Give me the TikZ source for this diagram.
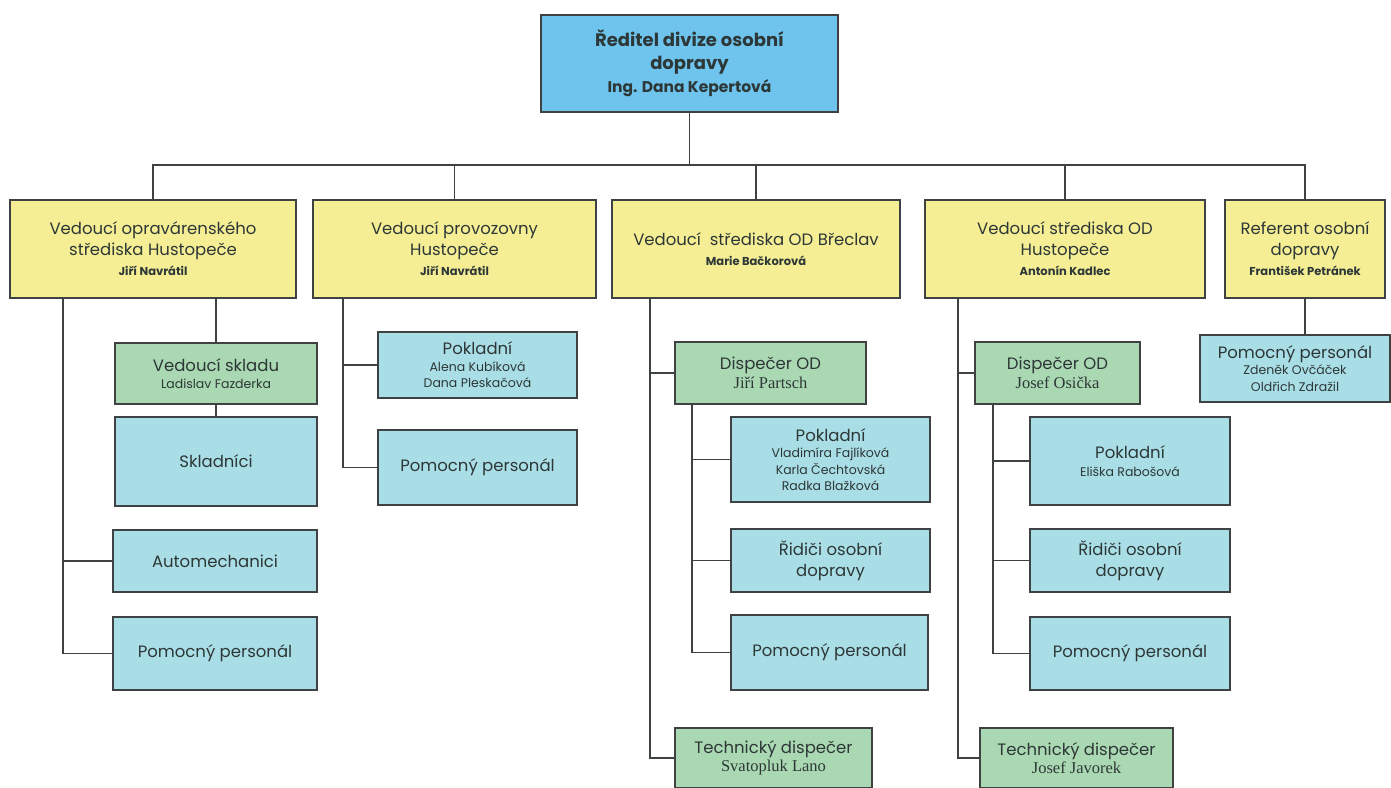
\documentclass[tikz,border=0pt]{standalone}
\usepackage{fontspec}
\setmainfont{Poppins}
\newfontfamily\serifnames{Liberation Serif}
\usepackage{tikz}
\definecolor{dirblue}{RGB}{110,196,236}
\definecolor{headyellow}{RGB}{245,238,148}
\definecolor{subgreen}{RGB}{170,216,178}
\definecolor{staffblue}{RGB}{170,222,230}
\definecolor{boxline}{RGB}{62,66,66}
\definecolor{textgrey}{RGB}{45,55,55}
\newcommand{\headname}[1]{{\fontsize{11.5}{13.5}\selectfont\bfseries #1}}
\newcommand{\staffname}[1]{{\fontsize{12.5}{15.5}\selectfont #1}}
\newcommand{\dispname}[1]{{\serifnames\fontsize{16.5}{19}\selectfont #1}}
\tikzset{
  orgbox/.style={rectangle, draw=boxline, line width=1.4pt, align=center, text=textgrey,
    inner sep=2pt, font=\fontsize{16.5}{20.5}\selectfont},
  director/.style={orgbox, fill=dirblue, font=\fontsize{18}{23}\selectfont\bfseries},
  head/.style={orgbox, fill=headyellow},
  deputy/.style={orgbox, fill=subgreen},
  staff/.style={orgbox, fill=staffblue},
  orgedge/.style={line width=1.2pt, boxline}
}
\begin{document}
\begin{tikzpicture}[x=1pt, y=-1pt]
  \useasboundingbox (0,0) rectangle (1391,787);

  \node[director, minimum width=297, minimum height=97] (dir) at (689.5,63.5)
    {Ředitel divize osobní\\dopravy\\{\fontsize{15.5}{18}\selectfont Ing. Dana Kepertová}};

  \node[head, minimum width=286, minimum height=98] (h1) at (153,249)
    {Vedoucí opravárenského\\střediska Hustopeče\\\headname{Jiří Navrátil}};
  \node[head, minimum width=283, minimum height=98] (h2) at (454.5,249)
    {Vedoucí provozovny\\Hustopeče\\\headname{Jiří Navrátil}};
  \node[head, minimum width=288, minimum height=98] (h3) at (756,249)
    {Vedoucí\ \ střediska OD Břeclav\\\headname{Marie Bačkorová}};
  \node[head, minimum width=280, minimum height=98] (h4) at (1065,249)
    {Vedoucí střediska OD\\Hustopeče\\\headname{Antonín Kadlec}};
  \node[head, minimum width=160, minimum height=98] (h5) at (1305,249)
    {Referent osobní\\dopravy\\\headname{František Petránek}};

  \node[deputy, minimum width=202, minimum height=61] (sklad) at (216,373.5)
    {Vedoucí skladu\\[-3pt]\staffname{Ladislav Fazderka}};
  \node[staff, minimum width=202, minimum height=89] (skladnici) at (216,461.5) {Skladníci};
  \node[staff, minimum width=204, minimum height=62] (auto) at (215,561) {Automechanici};
  \node[staff, minimum width=204, minimum height=73] (pp1) at (215,653.5) {Pomocný personál};

  \node[staff, minimum width=199, minimum height=66] (pok2) at (477.5,365)
    {Pokladní\\[-4pt]\staffname{Alena Kubíková}\\[-4pt]\staffname{Dana Pleskačová}};
  \node[staff, minimum width=199, minimum height=75] (pp2) at (477.5,467.5) {Pomocný personál};

  \node[deputy, minimum width=191, minimum height=62] (disp3) at (770.5,373)
    {Dispečer OD\\[-2pt]\dispname{Jiří Partsch}};
  \node[staff, minimum width=199, minimum height=85] (pok3) at (830.5,459.5)
    {Pokladní\\[-4pt]\staffname{Vladimíra Fajlíková}\\[-4pt]\staffname{Karla Čechtovská}\\[-4pt]\staffname{Radka Blažková}};
  \node[staff, minimum width=199, minimum height=63] (rid3) at (830.5,560.5) {Řidiči osobní\\dopravy};
  \node[staff, minimum width=197, minimum height=75] (pp3) at (829.5,652.5) {Pomocný personál};
  \node[deputy, minimum width=197, minimum height=60] (tech3) at (773.5,758)
    {Technický dispečer\\[-2pt]\dispname{Svatopluk Lano}};

  \node[deputy, minimum width=165, minimum height=62] (disp4) at (1057.5,373)
    {Dispečer OD\\[-2pt]\dispname{Josef Osička}};
  \node[staff, minimum width=200, minimum height=88] (pok4) at (1130,461)
    {Pokladní\\[-3pt]\staffname{Eliška Rabošová}};
  \node[staff, minimum width=200, minimum height=63] (rid4) at (1130,560.5) {Řidiči osobní\\dopravy};
  \node[staff, minimum width=200, minimum height=73] (pp4) at (1130,653.5) {Pomocný personál};
  \node[deputy, minimum width=193, minimum height=60] (tech4) at (1076.5,758)
    {Technický dispečer\\[-2pt]\dispname{Josef Javorek}};

  \node[staff, minimum width=190, minimum height=67] (pp5) at (1295,368.5)
    {Pomocný personál\\[-4pt]\staffname{Zdeněk Ovčáček}\\[-4pt]\staffname{Oldřich Zdražil}};

  \coordinate (bar) at (0,165);
  \coordinate (s1) at (63,298);
  \coordinate (s2) at (343,298);
  \coordinate (s3) at (650,298);
  \coordinate (s4) at (958,298);
  \coordinate (d3) at (692,404);
  \coordinate (d4) at (993,404);

  \draw[orgedge] (dir.south) -- (dir.south |- bar);
  \draw[orgedge] (h1.north) -- (h1.north |- bar) -- (h5.north |- bar) -- (h5.north);
  \draw[orgedge] (h2.north) -- (h2.north |- bar);
  \draw[orgedge] (h3.north) -- (h3.north |- bar);
  \draw[orgedge] (h4.north) -- (h4.north |- bar);

  \draw[orgedge] (sklad.north |- h1.south) -- (sklad.north);
  \draw[orgedge] (sklad.south) -- (skladnici.north);
  \draw[orgedge] (s1) |- (auto.west);
  \draw[orgedge] (s1) |- (pp1.west);

  \draw[orgedge] (s2) |- (pok2.west);
  \draw[orgedge] (s2) |- (pp2.west);

  \draw[orgedge] (s3) |- (disp3.west);
  \draw[orgedge] (s3) |- (tech3.west);
  \draw[orgedge] (d3) |- (pok3.west);
  \draw[orgedge] (d3) |- (rid3.west);
  \draw[orgedge] (d3) |- (pp3.west);

  \draw[orgedge] (s4) |- (disp4.west);
  \draw[orgedge] (s4) |- (tech4.west);
  \draw[orgedge] (d4) |- (pok4.west);
  \draw[orgedge] (d4) |- (rid4.west);
  \draw[orgedge] (d4) |- (pp4.west);

  \draw[orgedge] (h5.south) -- (h5.south |- pp5.north);
\end{tikzpicture}
\end{document}
